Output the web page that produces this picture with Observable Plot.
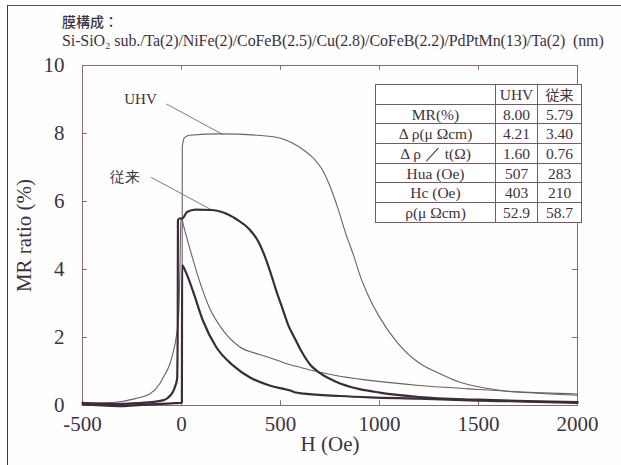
<!DOCTYPE html>
<html>
<head>
<meta charset="utf-8">
<script src="https://cdn.jsdelivr.net/npm/d3@7"></script>
<script src="https://cdn.jsdelivr.net/npm/@observablehq/plot@0.6"></script>
<style>
  html, body { margin: 0; padding: 0; background: #ffffff; }
  #wrap { position: relative; width: 621px; height: 465px; overflow: hidden; background: #fefefe; }
  #border { position: absolute; left: 7px; top: 5px; width: 640px; height: 480px; border-left: 1.5px solid #3a3a3a; border-top: 1px solid #555; }
  .t1 { position: absolute; left: 62px; top: 11px; font-family: "Noto Sans CJK JP", sans-serif; font-weight: 500; font-size: 14px; color: #3d3240; }
  .t2 { position: absolute; left: 62px; top: 32px; font-family: "Liberation Serif", serif; font-size: 16px; color: #3d3240; white-space: pre; letter-spacing: -0.1px; }
  #chart { position: absolute; left: 0; top: 0; }
  #tbl { position: absolute; left: 375px; top: 84px; border-collapse: collapse; font-family: "Liberation Serif", serif; font-size: 15.5px; color: #3d3240; background: #fff; }
  #tbl td { border: 1px solid #7a5a62; height: 18.7px; padding: 0 2px; text-align: center; line-height: 17px; }
  #tbl td.c0 { width: 115px; }
  #tbl td.c1 { width: 37px; }
  #tbl td.c2 { width: 39px; }
  .cjk { font-family: "Noto Sans CJK JP", sans-serif; font-size: 14px; }
</style>
</head>
<body>
<div id="wrap">
  <div id="border"></div>
  <div id="chart"></div>
  <div class="t1" id="title1"></div>
  <div class="t2" id="title2"></div>
  <table id="tbl"></table>
</div>
<script>
// ---- text ----
const titleLine1 = "膜構成：";
const titleLine2 = "Si-SiO₂ sub./Ta(2)/NiFe(2)/CoFeB(2.5)/Cu(2.8)/CoFeB(2.2)/PdPtMn(13)/Ta(2)  (nm)";
const xLabel = "H (Oe)";
const yLabel = "MR ratio (%)";

// ---- ticks ----
const xTicks = [-500, 0, 500, 1000, 1500, 2000];
const yTicks = [0, 2, 4, 6, 8, 10];

// ---- table ----
const tableHeader = ["", "UHV", "従来"];
const tableRows = ["MR(%)", "Δ ρ(μ Ωcm)", "Δ ρ ／ t(Ω)", "Hua (Oe)", "Hc (Oe)", "ρ(μ Ωcm)"];
const uhvValues = ["8.00", "4.21", "1.60", "507", "403", "52.9"];
const conventionalValues = ["5.79", "3.40", "0.76", "283", "210", "58.7"];

// ---- curves [H (Oe), MR (%)] ----
const uhvHigh = [[-500,0.05],[-300,0.03],[-100,0.05],[0,0.08],[3,0.1],[4,7.6],[15,7.88],[40,7.95],[200,7.99],[400,7.94],[500,7.86],[560,7.72],[620,7.5],[670,7.25],[710,6.95],[750,6.45],[790,5.8],[830,5.05],[870,4.4],[900,3.85],[950,3.15],[1000,2.6],[1090,1.85],[1200,1.25],[1300,0.95],[1400,0.7],[1500,0.55],[1650,0.42],[1800,0.36],[2000,0.3]];
const uhvLow = [[-500,0.08],[-400,0.08],[-300,0.12],[-250,0.18],[-200,0.25],[-160,0.34],[-110,0.64],[-95,0.8],[-60,1.2],[-44,1.52],[-27,2.0],[-14,2.7],[-8,4.0],[-4,5.3],[0,5.53],[10,5.3],[40,4.66],[90,3.68],[140,2.89],[210,2.21],[295,1.72],[395,1.5],[450,1.4],[520,1.25],[600,1.12],[700,0.98],[780,0.88],[950,0.74],[1200,0.59],[1450,0.49],[1700,0.4],[2000,0.34]];
const convHigh = [[-500,0.08],[-400,0.05],[-300,0.05],[-200,0.08],[-150,0.1],[-95,0.15],[-70,0.22],[-44,0.4],[-30,0.6],[-22,0.8],[-19,2.5],[-18,5.45],[-10,5.5],[3,5.5],[28,5.69],[70,5.76],[150,5.75],[200,5.7],[280,5.47],[340,5.2],[390,4.8],[420,4.4],[450,3.9],[480,3.35],[510,2.85],[540,2.35],[570,2.0],[610,1.55],[650,1.2],[700,0.95],[780,0.7],[900,0.48],[1000,0.38],[1200,0.25],[1500,0.17],[1800,0.12],[2000,0.1]];
const convLow = [[-500,0.03],[-400,0.0],[-300,-0.02],[-200,0.02],[-100,0.05],[-30,0.07],[0,0.08],[2,0.1],[3,4.12],[20,3.95],[57,3.38],[108,2.5],[175,1.72],[260,1.18],[344,0.83],[445,0.59],[530,0.47],[550,0.44],[570,0.39],[620,0.35],[800,0.28],[951,0.24],[1200,0.2],[1457,0.15],[1700,0.12],[2000,0.08]];

// ---- annotations ----
const annoText = ["UHV", "従来"];
const annoH = [-207, -283];
const annoMR = [9.0, 6.71];
const leaderStartH = [-77, -153];
const leaderStartMR = [8.87, 6.71];
const leaderEndH = [209, 150];
const leaderEndMR = [7.97, 5.76];

// ---- colours ----
const frameColor = "#8b6b73";
const textColor = "#3d3240";
const thinColor = "#6e5e6a";
const thickColor = "#3a2d3a";

document.getElementById("title1").textContent = titleLine1;
document.getElementById("title2").textContent = titleLine2;

// table
const tbl = document.getElementById("tbl");
{
  const tr = document.createElement("tr");
  tableHeader.forEach((h, j) => {
    const td = document.createElement("td");
    td.className = "c" + j + (j === 2 ? " cjk" : "");
    td.textContent = h;
    tr.appendChild(td);
  });
  tbl.appendChild(tr);
  tableRows.forEach((r, i) => {
    const row = document.createElement("tr");
    [r, uhvValues[i], conventionalValues[i]].forEach((v, j) => {
      const td = document.createElement("td");
      td.className = "c" + j;
      td.textContent = v;
      row.appendChild(td);
    });
    tbl.appendChild(row);
  });
}

const pts = (arr) => arr.map(([h, m]) => ({h, m}));
const innerX = xTicks.slice(1, -1);
const innerY = yTicks.slice(1, -1);
const leaders = annoText.map((t, i) => ({x1: leaderStartH[i], y1: leaderStartMR[i], x2: leaderEndH[i], y2: leaderEndMR[i]}));

const chart = Plot.plot({
  width: 621,
  height: 465,
  marginLeft: 82,
  marginRight: 44,
  marginTop: 65,
  marginBottom: 60,
  x: {domain: [-500, 2000]},
  y: {domain: [0, 10]},
  style: {fontFamily: "Liberation Serif, serif", color: textColor, background: "transparent", overflow: "visible"},
  marks: [
    Plot.frame({stroke: frameColor, strokeWidth: 1}),
    Plot.ruleX(innerX, {x: d => d, y1: 0, y2: 0.14, stroke: frameColor}),
    Plot.ruleX(innerX, {x: d => d, y1: 10, y2: 9.86, stroke: frameColor}),
    Plot.ruleY(innerY, {y: d => d, x1: -500, x2: -475, stroke: frameColor}),
    Plot.ruleY(innerY, {y: d => d, x1: 2000, x2: 1975, stroke: frameColor}),
    Plot.axisX(xTicks, {tickSize: 0, tickPadding: 11, fontSize: 21, tickFormat: d => String(d), label: xLabel, labelAnchor: "center", labelArrow: "none", labelOffset: 45}),
    Plot.axisY(yTicks, {tickSize: 0, tickPadding: 18, fontSize: 21, tickFormat: d => String(d), label: yLabel, labelAnchor: "center", labelArrow: "none", labelOffset: 66}),
    Plot.link(leaders, {x1: "x1", y1: "y1", x2: "x2", y2: "y2", stroke: "#7a6570", strokeWidth: 0.9}),
    Plot.line(pts(uhvHigh), {x: "h", y: "m", stroke: thinColor, strokeWidth: 1.1, curve: "monotone-x"}),
    Plot.line(pts(uhvLow), {x: "h", y: "m", stroke: thinColor, strokeWidth: 1.1, curve: "monotone-x"}),
    Plot.line(pts(convHigh), {x: "h", y: "m", stroke: thickColor, strokeWidth: 2.2, curve: "monotone-x"}),
    Plot.line(pts(convLow), {x: "h", y: "m", stroke: thickColor, strokeWidth: 2.2, curve: "monotone-x"}),
    Plot.text(annoText, {x: (d, i) => annoH[i], y: (d, i) => annoMR[i], text: d => d, fontSize: 15, fontWeight: 400, fill: textColor, fontFamily: (d, i) => i === 1 ? "Noto Sans CJK JP" : "Liberation Serif"})
  ]
});
document.getElementById("chart").appendChild(chart);
</script>
</body>
</html>
